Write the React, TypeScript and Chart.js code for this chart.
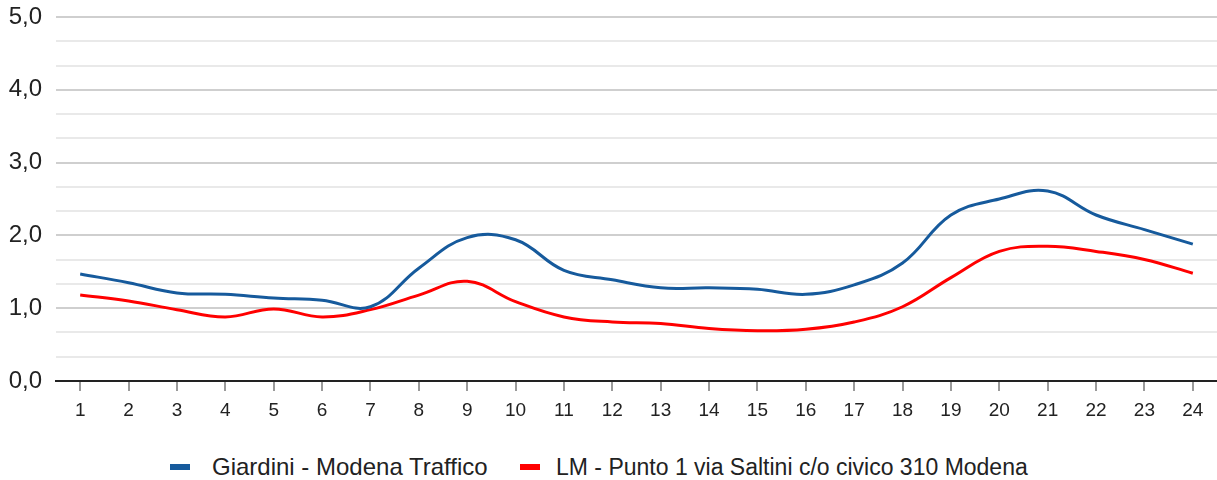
import React, { useEffect, useRef } from "react";
import { Chart, registerables } from "chart.js";

Chart.register(...registerables);

const hours: string[] = [
  "1", "2", "3", "4", "5", "6", "7", "8", "9", "10", "11", "12",
  "13", "14", "15", "16", "17", "18", "19", "20", "21", "22", "23", "24",
];

const giardini: number[] = [
  1.47, 1.35, 1.21, 1.19, 1.14, 1.11, 1.02, 1.55, 1.97, 1.94, 1.52, 1.39,
  1.28, 1.28, 1.26, 1.19, 1.32, 1.62, 2.28, 2.5, 2.61, 2.28, 2.08, 1.88,
];

const saltini: number[] = [
  1.18, 1.1, 0.98, 0.88, 0.99, 0.88, 0.98, 1.18, 1.37, 1.09, 0.88, 0.81,
  0.79, 0.72, 0.69, 0.71, 0.81, 1.02, 1.42, 1.78, 1.85, 1.78, 1.67, 1.48,
];

const seriesNames: string[] = [
  "Giardini - Modena Traffico",
  "LM - Punto 1 via Saltini c/o civico 310 Modena",
];
const seriesColors: string[] = ["#165a9c", "#ff0000"];

const yTickLabels: string[] = ["0,0", "1,0", "2,0", "3,0", "4,0", "5,0"];
const yMax = 5;
const minorPerMajor = 3;

const FONT = "'Liberation Sans', Arial, sans-serif";

export default function App() {
  const canvasRef = useRef<HTMLCanvasElement | null>(null);

  useEffect(() => {
    const canvas = canvasRef.current;
    if (!canvas) return;
    const chart = new Chart(canvas, {
      type: "line",
      data: {
        labels: hours,
        datasets: [
          {
            label: seriesNames[0],
            data: giardini,
            borderColor: seriesColors[0],
            backgroundColor: seriesColors[0],
            borderWidth: 3,
            pointRadius: 0,
            tension: 0.4,
          },
          {
            label: seriesNames[1],
            data: saltini,
            borderColor: seriesColors[1],
            backgroundColor: seriesColors[1],
            borderWidth: 3,
            pointRadius: 0,
            tension: 0.4,
          },
        ],
      },
      options: {
        responsive: false,
        animation: false,
        devicePixelRatio: 1,
        layout: { padding: { top: 17, left: 0, right: 0, bottom: 0 } },
        plugins: {
          legend: { display: false },
          tooltip: { enabled: false },
        },
        scales: {
          x: {
            offset: true,
            grid: {
              offset: false,
              drawOnChartArea: false,
              drawTicks: true,
              tickLength: 10,
              color: "#9a9a9a",
              lineWidth: 2,
            },
            border: { display: true, color: "#222222", width: 2 },
            ticks: {
              color: "#222222",
              padding: 8,
              font: { family: FONT, size: 19 },
              maxRotation: 0,
              autoSkip: false,
            },
            afterFit: (scale: any) => {
              scale.height = 59;
              scale.paddingLeft = 0;
              scale.paddingRight = 0;
            },
          },
          y: {
            min: 0,
            max: yMax,
            afterBuildTicks: (scale: any) => {
              const t: { value: number }[] = [];
              for (let i = 0; i <= yMax * minorPerMajor; i++) {
                t.push({ value: i / minorPerMajor });
              }
              scale.ticks = t;
            },
            grid: {
              drawTicks: false,
              color: (ctx: any) =>
                ctx.index % minorPerMajor === 0 ? "#cfcfcf" : "#e9e9e9",
              lineWidth: 2,
            },
            border: { display: false },
            ticks: {
              color: "#222222",
              padding: 14,
              autoSkip: false,
              font: { family: FONT, size: 24 },
              callback: (_v: any, index: number) =>
                index % minorPerMajor === 0
                  ? yTickLabels[index / minorPerMajor]
                  : "",
            },
            afterFit: (scale: any) => {
              scale.width = 56;
              scale.paddingTop = 0;
              scale.paddingBottom = 0;
            },
          },
        },
      },
    });
    return () => chart.destroy();
  }, []);

  const legendText = (left: number, size: number): React.CSSProperties => ({
    position: "absolute",
    left,
    top: 453,
    height: 28,
    lineHeight: "28px",
    fontFamily: FONT,
    fontSize: size,
    color: "#222222",
    whiteSpace: "nowrap",
  });
  const marker = (left: number, color: string): React.CSSProperties => ({
    position: "absolute",
    left,
    top: 464,
    width: 20,
    height: 6,
    background: color,
  });

  return (
    <div
      style={{
        position: "absolute",
        left: 0,
        top: 0,
        width: 1217,
        height: 480,
        background: "#ffffff",
        overflow: "hidden",
      }}
    >
      <canvas
        ref={canvasRef}
        width={1217}
        height={440}
        style={{ position: "absolute", left: 0, top: 0, width: 1217, height: 440 }}
      />
      <div style={marker(170, seriesColors[0])} />
      <div style={legendText(212, 24)}>{seriesNames[0]}</div>
      <div style={marker(520, seriesColors[1])} />
      <div style={legendText(556, 23)}>{seriesNames[1]}</div>
    </div>
  );
}
